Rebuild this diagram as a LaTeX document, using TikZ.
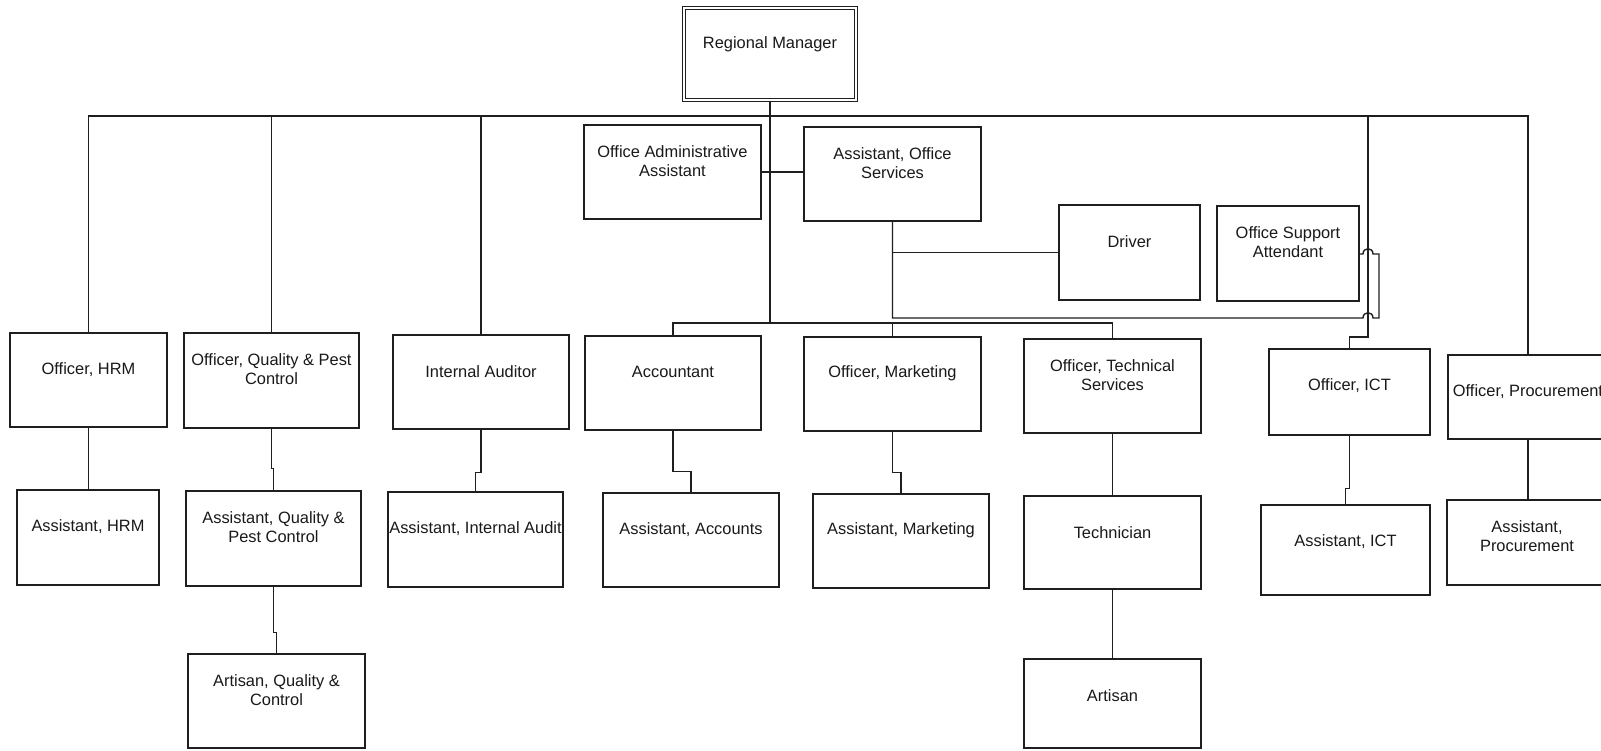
\documentclass[tikz,border=0pt]{standalone}
\usepackage{fontspec}
\setmainfont{Liberation Sans}
\usetikzlibrary{calc}

\newcommand\boxfont{\fontsize{16.4}{19.5}\selectfont}

% \orgbox[options]{name}{x1}{y1}{x2}{y2}{text}: a framed post with its title near the top
\newcommand\orgbox[7][]{%
  \node[box,#1,minimum width={#5-#3},minimum height={#6-#4}] (#2) at ({(#3+#5)/2},{(#4+#6)/2}) {};
  \node[boxtext] (#2-t) at ($(#2.north)+(0,37)$) {#7};
}

\begin{document}
\begin{tikzpicture}[x=1pt,y=-1pt,
  box/.style={draw=black!88,line width=1.4pt,fill=white,rectangle,inner sep=0pt},
  headbox/.style={double,double distance=2.6pt,line width=1.1pt},
  boxtext/.style={align=center,font=\boxfont,text=black!90,inner sep=0pt},
  link/.style={draw=black!88,line width=1.4pt,line join=miter}]

\useasboundingbox (0,0) rectangle (1601,750);
\clip (0,0) rectangle (1601,750);
\fill[white] (0,0) rectangle (1601,750);

% --- posts -------------------------------------------------------------
\orgbox[headbox]{rm}{684}{8}{856}{100}{Regional Manager}

\orgbox{oaa}{584}{125}{761}{219}{Office Administrative\\Assistant}
\orgbox{aso}{804}{127}{981}{221}{Assistant, Office\\Services}
\orgbox{drv}{1059}{205}{1200}{300}{Driver}
\orgbox{osa}{1217}{206}{1359}{301}{Office Support\\Attendant}

\orgbox{hrm}{10}{333}{167}{427}{Officer, HRM}
\orgbox{oqpc}{184}{333}{359}{428}{Officer, Quality \& Pest\\Control}
\orgbox{ia}{393}{335}{569}{429}{Internal Auditor}
\orgbox{acc}{585}{336}{761}{430}{Accountant}
\orgbox{omkt}{804}{337}{981}{431}{Officer, Marketing}
\orgbox{ots}{1024}{339}{1201}{433}{Officer, Technical\\Services}
\orgbox{oict}{1269}{349}{1430}{435}{Officer, ICT}
\orgbox{proc}{1448}{355}{1608}{439}{Officer, Procurement}

\orgbox{ahrm}{17}{490}{159}{585}{Assistant, HRM}
\orgbox{aqpc}{186}{491}{361}{586}{Assistant, Quality \&\\Pest Control}
\orgbox{aia}{388}{492}{563}{587}{Assistant, Internal Audit}
\orgbox{aacc}{603}{493}{779}{587}{Assistant, Accounts}
\orgbox{amkt}{813}{494}{989}{588}{Assistant, Marketing}
\orgbox{tech}{1024}{496}{1201}{589}{Technician}
\orgbox{aict}{1261}{505}{1430}{595}{Assistant, ICT}
\orgbox{aproc}{1447}{500}{1607}{585}{Assistant,\\Procurement}

\orgbox{artq}{188}{654}{365}{748}{Artisan, Quality \&\\Control}
\orgbox{art}{1024}{659}{1201}{748}{Artisan}

% --- reporting lines ---------------------------------------------------
\coordinate (bus) at (0,116);
\coordinate (sub) at (0,323);
\coordinate (ictbus) at (1368,116);

% main bus under the Regional Manager
\draw[link] (hrm.north) -- (hrm.north |- bus) -| (proc.north);
\draw[link] (oqpc.north) -- (oqpc.north |- bus);
\draw[link] (ia.north) -- (ia.north |- bus);
\draw[link] (rm.south) -- (rm.south |- sub);
\draw[link] (ictbus) -- (1368,337) -| (oict.north);

% second bus for accounts, marketing and technical services
\draw[link] (acc.north) -- (acc.north |- sub) -| (ots.north);
\draw[link] (omkt.north) -- (omkt.north |- sub);

% office staff
\draw[link] (oaa.east) -- (oaa.east -| aso.west);
\draw[link] (aso.south |- drv.west) -- (drv.west);
\draw[link] (aso.south) |- (1363,318)
  .. controls (1363,311) and (1373,311) .. (1373,318)
  -- (1379,318) -- (1379,254) -- (1373,254)
  .. controls (1373,247) and (1363,247) .. (1363,254)
  -- (osa.east |- 0,254);

% officers to their assistants
\draw[link] (hrm.south) -- (hrm.south |- ahrm.north);
\draw[link] (oqpc.south) -- ++(0,40) -| (aqpc.north);
\draw[link] (aqpc.south) -- ++(0,46) -| (artq.north);
\draw[link] (ia.south) -- ++(0,43) -| (aia.north);
\draw[link] (acc.south) -- ++(0,41) -| (aacc.north);
\draw[link] (omkt.south) -- ++(0,41) -| (amkt.north);
\draw[link] (ots.south) -- (tech.north);
\draw[link] (tech.south) -- (art.north);
\draw[link] (oict.south) -- ++(0,53) -| (aict.north);
\draw[link] (proc.south) -- (proc.south |- aproc.north);

\end{tikzpicture}
\end{document}
